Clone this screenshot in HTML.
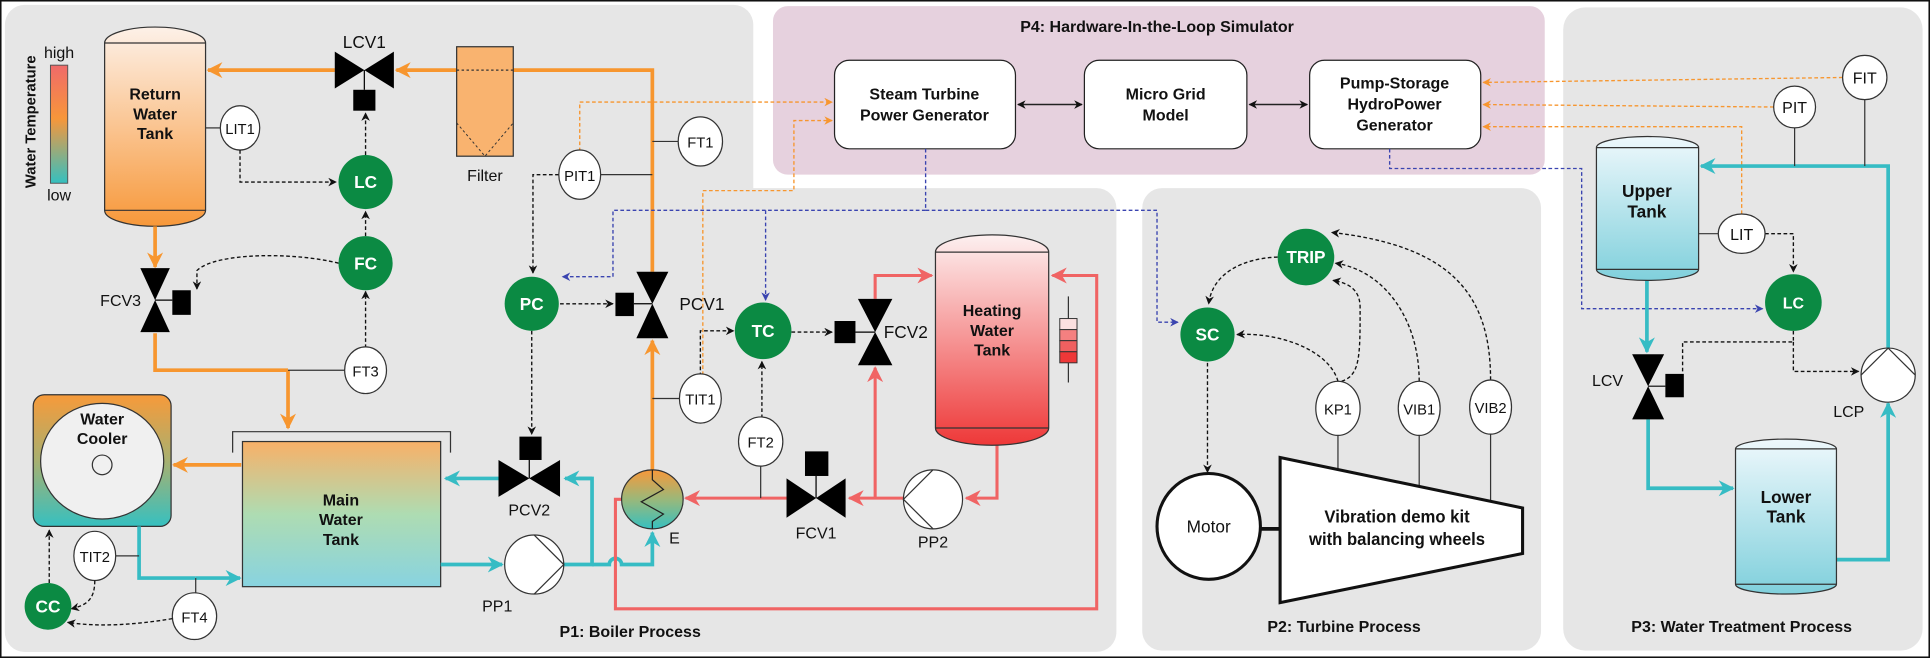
<!DOCTYPE html>
<html><head><meta charset="utf-8"><style>
html,body{margin:0;padding:0;background:#fff;}
svg{display:block;}
text{font-family:"Liberation Sans Narrow","Liberation Sans",Arial,sans-serif;fill:#111;}
.b{font-weight:bold;}
.w{font-family:"Liberation Sans",Arial,sans-serif;}
</style></head><body>
<svg width="1930" height="658" viewBox="0 0 1568 535" preserveAspectRatio="none" xmlns="http://www.w3.org/2000/svg">
<defs>
<linearGradient id="gRet" x1="0" y1="0" x2="0" y2="1"><stop offset="0" stop-color="#fdf1e8"/><stop offset="1" stop-color="#f7983a"/></linearGradient>
<linearGradient id="gCool" x1="0" y1="0" x2="0" y2="1"><stop offset="0" stop-color="#f79a3a"/><stop offset="0.5" stop-color="#a8b070"/><stop offset="1" stop-color="#36c0c0"/></linearGradient>
<linearGradient id="gMain" x1="0" y1="0" x2="0" y2="1"><stop offset="0" stop-color="#f8b068"/><stop offset="0.5" stop-color="#aedcb2"/><stop offset="1" stop-color="#88d3e0"/></linearGradient>
<linearGradient id="gE" x1="0" y1="0" x2="0" y2="1"><stop offset="0" stop-color="#f7983a"/><stop offset="0.5" stop-color="#9ab87a"/><stop offset="1" stop-color="#36c0c0"/></linearGradient>
<linearGradient id="gHeat" x1="0" y1="0" x2="0" y2="1"><stop offset="0" stop-color="#fdf0f0"/><stop offset="1" stop-color="#ee3838"/></linearGradient>
<linearGradient id="gT3" x1="0" y1="0" x2="0" y2="1"><stop offset="0" stop-color="#eef8fc"/><stop offset="1" stop-color="#80d0dc"/></linearGradient>
<linearGradient id="gBar" x1="0" y1="0" x2="0" y2="1"><stop offset="0" stop-color="#f06a6a"/><stop offset="0.45" stop-color="#f7963a"/><stop offset="1" stop-color="#35c0c0"/></linearGradient>
<marker id="ao" viewBox="0 0 10 10" refX="9" refY="5" markerWidth="13" markerHeight="13" markerUnits="userSpaceOnUse" orient="auto"><path d="M0,0 L10,5 L0,10 L3,5z" fill="#f7962f"/></marker>
<marker id="at" viewBox="0 0 10 10" refX="9" refY="5" markerWidth="13" markerHeight="13" markerUnits="userSpaceOnUse" orient="auto"><path d="M0,0 L10,5 L0,10 L3,5z" fill="#36bcc4"/></marker>
<marker id="ar" viewBox="0 0 10 10" refX="9" refY="5" markerWidth="13" markerHeight="13" markerUnits="userSpaceOnUse" orient="auto"><path d="M0,0 L10,5 L0,10 L3,5z" fill="#f06464"/></marker>
<marker id="ak" viewBox="0 0 10 10" refX="9" refY="5" markerWidth="7" markerHeight="7" markerUnits="userSpaceOnUse" orient="auto"><path d="M0,0 L10,5 L0,10 L3,5z" fill="#111"/></marker>
<marker id="ab" viewBox="0 0 10 10" refX="9" refY="5" markerWidth="7" markerHeight="7" markerUnits="userSpaceOnUse" orient="auto"><path d="M0,0 L10,5 L0,10 L3,5z" fill="#3a44b0"/></marker>
<marker id="aO" viewBox="0 0 10 10" refX="9" refY="5" markerWidth="7" markerHeight="7" markerUnits="userSpaceOnUse" orient="auto"><path d="M0,0 L10,5 L0,10 L3,5z" fill="#f7962f"/></marker>
<marker id="aks" viewBox="0 0 10 10" refX="1" refY="5" markerWidth="7" markerHeight="7" markerUnits="userSpaceOnUse" orient="auto"><path d="M10,0 L0,5 L10,10 L7,5z" fill="#111"/></marker>
</defs>
<rect x="0.5" y="0.5" width="1567" height="534" fill="#fff" stroke="#111" stroke-width="1.5"/>
<rect x="4" y="4" width="608" height="526" rx="16" fill="#e6e6e6"/>
<rect x="4" y="153" width="903" height="377" rx="16" fill="#e6e6e6"/>
<rect x="628" y="5" width="627" height="137" rx="12" fill="#e6d1de"/>
<rect x="928" y="153" width="324" height="376" rx="16" fill="#e6e6e6"/>
<rect x="1270" y="6" width="292" height="523" rx="18" fill="#e6e6e6"/>

<text x="940" y="26" text-anchor="middle" class="b" font-size="13">P4: Hardware-In-the-Loop Simulator</text>
<rect x="678" y="49" width="147" height="72" rx="12" fill="#fff" stroke="#222" stroke-width="1"/>
<text x="751" y="81" text-anchor="middle" class="b" font-size="13">Steam Turbine</text>
<text x="751" y="98" text-anchor="middle" class="b" font-size="13">Power Generator</text>
<rect x="881" y="49" width="132" height="72" rx="12" fill="#fff" stroke="#222" stroke-width="1"/>
<text x="947" y="81" text-anchor="middle" class="b" font-size="13">Micro Grid</text>
<text x="947" y="98" text-anchor="middle" class="b" font-size="13">Model</text>
<rect x="1064" y="49" width="139" height="72" rx="12" fill="#fff" stroke="#222" stroke-width="1"/>
<text x="1133" y="72" text-anchor="middle" class="b" font-size="13">Pump-Storage</text>
<text x="1133" y="89" text-anchor="middle" class="b" font-size="13">HydroPower</text>
<text x="1133" y="106" text-anchor="middle" class="b" font-size="13">Generator</text>
<line x1="827" y1="85" x2="879" y2="85" stroke="#222" stroke-width="1.2" marker-start="url(#aks)" marker-end="url(#ak)"/>
<line x1="1015" y1="85" x2="1062" y2="85" stroke="#222" stroke-width="1.2" marker-start="url(#aks)" marker-end="url(#ak)"/>

<text transform="translate(29,99) rotate(-90)" text-anchor="middle" class="b w" font-size="12">Water Temperature</text>
<text x="48" y="47" text-anchor="middle" font-size="13">high</text>
<rect x="41" y="53" width="14" height="96" fill="url(#gBar)" stroke="#555" stroke-width="0.8"/>
<text x="48" y="163" text-anchor="middle" font-size="13">low</text>

<path d="M85,35 A41,13 0 0 1 167,35 L167,171 A41,13 0 0 1 85,171 Z" fill="url(#gRet)" stroke="#333" stroke-width="1"/>
<line x1="85" y1="35" x2="167" y2="35" stroke="#333"/><line x1="85" y1="171" x2="167" y2="171" stroke="#333"/>
<text x="126" y="81" text-anchor="middle" class="b" font-size="13">Return</text>
<text x="126" y="97" text-anchor="middle" class="b" font-size="13">Water</text>
<text x="126" y="113" text-anchor="middle" class="b" font-size="13">Tank</text>

<g fill="none" stroke="#f7962f" stroke-width="3">
<polyline points="530,221 530,57 417,57"/>
<line x1="371" y1="57" x2="322" y2="57" marker-end="url(#ao)"/>
<line x1="272" y1="57" x2="169" y2="57" marker-end="url(#ao)"/>
<line x1="126" y1="184" x2="126" y2="217" marker-end="url(#ao)"/>
<polyline points="126,271 126,301 234,301"/>
<line x1="234" y1="301" x2="234" y2="348" marker-end="url(#ao)"/>
<line x1="196" y1="378" x2="141" y2="378" marker-end="url(#ao)"/>
<line x1="530" y1="382" x2="530" y2="277" marker-end="url(#ao)"/>
</g>
<rect x="371" y="38" width="46" height="89" fill="#f9b36f" stroke="#333" stroke-width="1"/>
<line x1="371" y1="57" x2="417" y2="57" stroke="#333" stroke-dasharray="2 2"/>
<polyline points="371,100 394,127 417,100" fill="none" stroke="#333" stroke-width="0.8" stroke-dasharray="2 2"/>
<text x="394" y="147" text-anchor="middle" font-size="13">Filter</text>

<polygon points="272,42 296,57 272,72" fill="#000"/><polygon points="320,42 296,57 320,72" fill="#000"/>
<line x1="296" y1="57" x2="296" y2="73" stroke="#000"/><rect x="287" y="73" width="18" height="17" fill="#000"/>
<text x="296" y="39" text-anchor="middle" font-size="14">LCV1</text>

<line x1="167" y1="104" x2="179" y2="104" stroke="#333"/>
<ellipse cx="195" cy="104" rx="16" ry="18" fill="#fff" stroke="#333"/>
<text x="195" y="109" text-anchor="middle" font-size="12">LIT1</text>

<g fill="none" stroke="#111" stroke-width="1.1" stroke-dasharray="3 2">
<polyline points="195,122 195,148 273,148" marker-end="url(#ak)"/>
<line x1="297" y1="126" x2="297" y2="92" marker-end="url(#ak)"/>
<line x1="297" y1="192" x2="297" y2="172" marker-end="url(#ak)"/>
<line x1="297" y1="283" x2="297" y2="237" marker-end="url(#ak)"/>
<path d="M275,214 C240,205 175,205 160,220 L160,235" marker-end="url(#ak)"/>
</g>
<circle cx="297" cy="148" r="22" fill="#0b8a43"/><text x="297" y="153" text-anchor="middle" class="b" font-size="14" style="fill:#fff">LC</text>
<circle cx="297" cy="214" r="22" fill="#0b8a43"/><text x="297" y="219" text-anchor="middle" class="b" font-size="14" style="fill:#fff">FC</text>

<polygon points="114,218 138,218 126,244" fill="#000"/><polygon points="114,270 138,270 126,244" fill="#000"/>
<line x1="126" y1="244" x2="140" y2="244" stroke="#000"/><rect x="140" y="236" width="15" height="20" fill="#000"/>
<text x="98" y="249" text-anchor="middle" font-size="13">FCV3</text>

<line x1="234" y1="301" x2="280" y2="301" stroke="#333"/>
<ellipse cx="297" cy="301" rx="17" ry="19" fill="#fff" stroke="#333"/>
<text x="297" y="306" text-anchor="middle" font-size="12">FT3</text>

<rect x="27" y="321" width="112" height="107" rx="9" fill="url(#gCool)" stroke="#333"/>
<ellipse cx="83" cy="375" rx="50" ry="47" fill="#f0f0f0" stroke="#333"/>
<circle cx="83" cy="378" r="8" fill="none" stroke="#333"/>
<text x="83" y="345" text-anchor="middle" class="b" font-size="13">Water</text>
<text x="83" y="361" text-anchor="middle" class="b" font-size="13">Cooler</text>

<polyline points="189,368 189,351 366,351 366,368" fill="none" stroke="#333"/>
<rect x="197" y="359" width="161" height="118" fill="url(#gMain)" stroke="#333"/>
<text x="277" y="411" text-anchor="middle" class="b" font-size="13">Main</text>
<text x="277" y="427" text-anchor="middle" class="b" font-size="13">Water</text>
<text x="277" y="443" text-anchor="middle" class="b" font-size="13">Tank</text>

<g fill="none" stroke="#36bcc4" stroke-width="3">
<polyline points="113,428 113,470 159,470"/>
<line x1="159" y1="470" x2="195" y2="470" marker-end="url(#at)"/>
<line x1="405" y1="389" x2="362" y2="389" marker-end="url(#at)"/>
<line x1="358" y1="459" x2="408" y2="459" marker-end="url(#at)"/>
<polyline points="458,459 481,459 481,389 470,389"/>
<path d="M481,459 L495,459 A5,5 0 0 1 505,459 L530,459 L530,433" marker-end="url(#at)"/>
</g>
<polyline points="481,389 459,389" fill="none" stroke="#36bcc4" stroke-width="3" marker-end="url(#at)"/>
<line x1="113" y1="452" x2="93" y2="452" stroke="#333"/>
<line x1="159" y1="470" x2="159" y2="482" stroke="#333"/>
<ellipse cx="77" cy="452" rx="17" ry="20" fill="#fff" stroke="#333"/><text x="77" y="457" text-anchor="middle" font-size="12">TIT2</text>
<ellipse cx="158" cy="501" rx="18" ry="19" fill="#fff" stroke="#333"/><text x="158" y="506" text-anchor="middle" font-size="12">FT4</text>
<g fill="none" stroke="#111" stroke-width="1.1" stroke-dasharray="3 2">
<line x1="40" y1="474" x2="40" y2="431" marker-end="url(#ak)"/>
<path d="M77,472 C77,488 70,492 58,495" marker-end="url(#ak)"/>
<path d="M140,503 C110,508 80,510 55,506" marker-end="url(#ak)"/>
</g>
<circle cx="39" cy="493" r="19" fill="#0b8a43"/><text x="39" y="498" text-anchor="middle" class="b" font-size="14" style="fill:#fff">CC</text>

<polygon points="405,374 430,389 405,404" fill="#000"/><polygon points="455,374 430,389 455,404" fill="#000"/>
<line x1="430" y1="389" x2="430" y2="374" stroke="#000"/><rect x="422" y="355" width="18" height="19" fill="#000"/>
<text x="430" y="419" text-anchor="middle" font-size="13">PCV2</text>

<ellipse cx="434" cy="459" rx="24" ry="24" fill="#fff" stroke="#333"/>
<polyline points="434,435 458,459 434,483" fill="none" stroke="#333"/>
<text x="404" y="497" text-anchor="middle" font-size="13">PP1</text>

<g fill="none" stroke="#f06464" stroke-width="2.5">
<polyline points="505,406 500,406 500,495 891,495 891,224 855,224" marker-end="url(#ar)"/>
<line x1="639" y1="405" x2="557" y2="405" marker-end="url(#ar)"/>
<line x1="734" y1="405" x2="690" y2="405" marker-end="url(#ar)"/>
<line x1="711" y1="405" x2="711" y2="299" marker-end="url(#ar)"/>
<polyline points="711,243 711,224 757,224" marker-end="url(#ar)"/>
<polyline points="810,362 810,405 785,405" marker-end="url(#ar)"/>
</g>
<line x1="618" y1="379" x2="618" y2="405" stroke="#333"/>

<ellipse cx="530" cy="406" rx="25" ry="24" fill="url(#gE)" stroke="#333"/>
<polyline points="530,382 530,390 539,398 521,408 539,418 530,424 530,430" fill="none" stroke="#222" stroke-width="1"/>
<text x="548" y="442" text-anchor="middle" font-size="13">E</text>

<polygon points="517,221 543,221 530,247" fill="#000"/><polygon points="517,275 543,275 530,247" fill="#000"/>
<line x1="530" y1="247" x2="515" y2="247" stroke="#000"/><rect x="500" y="238" width="15" height="19" fill="#000"/>
<text x="552" y="252" font-size="14">PCV1</text>

<line x1="488" y1="142" x2="530" y2="142" stroke="#333"/>
<line x1="530" y1="115" x2="551" y2="115" stroke="#333"/>
<line x1="530" y1="324" x2="552" y2="324" stroke="#333"/>
<g fill="none" stroke-width="1.1" stroke-dasharray="3 2">
<polyline points="471,123 471,83 676,83" stroke="#f7962f" marker-end="url(#aO)"/>
<polyline points="571,305 571,155 645,155 645,98 676,98" stroke="#f7962f" marker-end="url(#aO)"/>
<polyline points="454,142 433,142 433,222" stroke="#111" marker-end="url(#ak)"/>
<line x1="455" y1="247" x2="498" y2="247" stroke="#111" marker-end="url(#ak)"/>
<line x1="432" y1="269" x2="432" y2="353" stroke="#111" marker-end="url(#ak)"/>
<polyline points="569,306 569,269 596,269" stroke="#111" marker-end="url(#ak)"/>
<line x1="643" y1="270" x2="676" y2="270" stroke="#111" marker-end="url(#ak)"/>
<line x1="619" y1="340" x2="619" y2="294" stroke="#111" marker-end="url(#ak)"/>
<polyline points="752,121 752,171 498,171 498,225 457,225" stroke="#3a44b0" marker-end="url(#ab)"/>
<polyline points="622,171 622,244" stroke="#3a44b0" marker-end="url(#ab)"/>
<polyline points="752,171 940,171 940,262 957,262" stroke="#3a44b0" marker-end="url(#ab)"/>
<polyline points="1129,121 1129,137 1285,137 1285,251 1432,251" stroke="#3a44b0" marker-end="url(#ab)"/>
<polyline points="1497,63 1205,67" stroke="#f7962f" marker-end="url(#aO)"/>
<polyline points="1441,87 1205,85" stroke="#f7962f" marker-end="url(#aO)"/>
<polyline points="1415,174 1415,103 1205,103" stroke="#f7962f" marker-end="url(#aO)"/>
</g>
<ellipse cx="471" cy="142" rx="17" ry="20" fill="#fff" stroke="#333"/><text x="471" y="147" text-anchor="middle" font-size="12">PIT1</text>
<ellipse cx="569" cy="115" rx="18" ry="20" fill="#fff" stroke="#333"/><text x="569" y="120" text-anchor="middle" font-size="12">FT1</text>
<ellipse cx="569" cy="324" rx="17" ry="20" fill="#fff" stroke="#333"/><text x="569" y="329" text-anchor="middle" font-size="12">TIT1</text>
<ellipse cx="618" cy="359" rx="18" ry="20" fill="#fff" stroke="#333"/><text x="618" y="364" text-anchor="middle" font-size="12">FT2</text>
<circle cx="432" cy="247" r="22" fill="#0b8a43"/><text x="432" y="252" text-anchor="middle" class="b" font-size="14" style="fill:#fff">PC</text>
<circle cx="620" cy="269" r="23" fill="#0b8a43"/><text x="620" y="274" text-anchor="middle" class="b" font-size="14" style="fill:#fff">TC</text>

<polygon points="697,243 725,243 711,270" fill="#000"/><polygon points="697,297 725,297 711,270" fill="#000"/>
<line x1="711" y1="270" x2="695" y2="270" stroke="#000"/><rect x="678" y="261" width="17" height="18" fill="#000"/>
<text x="718" y="275" font-size="14">FCV2</text>

<polygon points="639,389 663,405 639,421" fill="#000"/><polygon points="687,389 663,405 687,421" fill="#000"/>
<line x1="663" y1="405" x2="663" y2="387" stroke="#000"/><rect x="654" y="367" width="19" height="20" fill="#000"/>
<text x="663" y="438" text-anchor="middle" font-size="13">FCV1</text>

<ellipse cx="758" cy="406" rx="24" ry="24" fill="#fff" stroke="#333"/>
<polyline points="758,382 734,406 758,430" fill="none" stroke="#333"/>
<text x="758" y="445" text-anchor="middle" font-size="13">PP2</text>

<path d="M760,205 A46,14 0 0 1 852,205 L852,348 A46,14 0 0 1 760,348 Z" fill="url(#gHeat)" stroke="#333"/>
<line x1="760" y1="205" x2="852" y2="205" stroke="#333"/><line x1="760" y1="348" x2="852" y2="348" stroke="#333"/>
<text x="806" y="257" text-anchor="middle" class="b" font-size="13">Heating</text>
<text x="806" y="273" text-anchor="middle" class="b" font-size="13">Water</text>
<text x="806" y="289" text-anchor="middle" class="b" font-size="13">Tank</text>
<line x1="868" y1="241" x2="868" y2="311" stroke="#333"/>
<rect x="861" y="259" width="14" height="9" fill="#fbe0e0" stroke="#333" stroke-width="0.8"/>
<rect x="861" y="268" width="14" height="9" fill="#f48080" stroke="#333" stroke-width="0.8"/>
<rect x="861" y="277" width="14" height="9" fill="#f06060" stroke="#333" stroke-width="0.8"/>
<rect x="861" y="286" width="14" height="9" fill="#ee3838" stroke="#333" stroke-width="0.8"/>

<text x="512" y="518" text-anchor="middle" class="b" font-size="13">P1: Boiler Process</text>

<g fill="none" stroke="#111" stroke-width="1.1" stroke-dasharray="3 2">
<path d="M1038,209 C1010,210 985,222 982,247" marker-end="url(#ak)"/>
<path d="M1087,310 C1080,285 1040,270 1005,272" marker-end="url(#ak)"/>
<path d="M1090,310 C1105,305 1105,290 1105,250 C1105,235 1095,230 1083,228" marker-end="url(#ak)"/>
<path d="M1153,310 C1153,260 1125,220 1085,214" marker-end="url(#ak)"/>
<path d="M1211,309 C1211,240 1180,200 1082,189" marker-end="url(#ak)"/>
<line x1="981" y1="295" x2="981" y2="384" marker-end="url(#ak)"/>
</g>
<circle cx="1061" cy="209" r="23" fill="#0b8a43"/><text x="1061" y="214" text-anchor="middle" class="b" font-size="14" style="fill:#fff">TRIP</text>
<circle cx="981" cy="272" r="22" fill="#0b8a43"/><text x="981" y="277" text-anchor="middle" class="b" font-size="14" style="fill:#fff">SC</text>
<line x1="1087" y1="354" x2="1087" y2="382" stroke="#333"/>
<line x1="1153" y1="354" x2="1153" y2="396" stroke="#333"/>
<line x1="1211" y1="353" x2="1211" y2="408" stroke="#333"/>
<ellipse cx="1087" cy="332" rx="18" ry="22" fill="#fff" stroke="#333"/><text x="1087" y="337" text-anchor="middle" font-size="12">KP1</text>
<ellipse cx="1153" cy="332" rx="17" ry="22" fill="#fff" stroke="#333"/><text x="1153" y="337" text-anchor="middle" font-size="12">VIB1</text>
<ellipse cx="1211" cy="331" rx="17" ry="22" fill="#fff" stroke="#333"/><text x="1211" y="336" text-anchor="middle" font-size="12">VIB2</text>
<line x1="1024" y1="430" x2="1040" y2="430" stroke="#111" stroke-width="3"/>
<ellipse cx="982" cy="428" rx="42" ry="43" fill="#fff" stroke="#111" stroke-width="2.5"/>
<text x="982" y="433" text-anchor="middle" font-size="14">Motor</text>
<polygon points="1040,372 1237,413 1237,450 1040,490" fill="#fff" stroke="#111" stroke-width="2.5"/>
<text x="1135" y="425" text-anchor="middle" class="b" font-size="14" textLength="118" lengthAdjust="spacingAndGlyphs">Vibration demo kit</text>
<text x="1135" y="443" text-anchor="middle" class="b" font-size="14" textLength="143" lengthAdjust="spacingAndGlyphs">with balancing wheels</text>
<text x="1092" y="514" text-anchor="middle" class="b" font-size="13">P2: Turbine Process</text>

<g fill="none" stroke="#36bcc4" stroke-width="3">
<polyline points="1534,283 1534,135 1382,135" marker-end="url(#at)"/>
<line x1="1338" y1="228" x2="1338" y2="286" marker-end="url(#at)"/>
<polyline points="1339,341 1339,397 1408,397" marker-end="url(#at)"/>
<polyline points="1492,455 1534,455 1534,328" marker-end="url(#at)"/>
</g>
<line x1="1515" y1="81" x2="1515" y2="135" stroke="#333"/>
<line x1="1458" y1="104" x2="1458" y2="135" stroke="#333"/>
<line x1="1380" y1="190" x2="1396" y2="190" stroke="#333"/>
<path d="M1297,120 A41.5,9 0 0 1 1380,120 L1380,219 A41.5,9 0 0 1 1297,219 Z" fill="url(#gT3)" stroke="#333"/>
<line x1="1297" y1="120" x2="1380" y2="120" stroke="#333"/><line x1="1297" y1="219" x2="1380" y2="219" stroke="#333"/>
<text x="1338" y="160" text-anchor="middle" class="b w" font-size="14">Upper</text>
<text x="1338" y="177" text-anchor="middle" class="b w" font-size="14">Tank</text>
<path d="M1410,365 A41,8 0 0 1 1492,365 L1492,475 A41,8 0 0 1 1410,475 Z" fill="url(#gT3)" stroke="#333"/>
<line x1="1410" y1="365" x2="1492" y2="365" stroke="#333"/><line x1="1410" y1="475" x2="1492" y2="475" stroke="#333"/>
<text x="1451" y="409" text-anchor="middle" class="b w" font-size="14">Lower</text>
<text x="1451" y="425" text-anchor="middle" class="b w" font-size="14">Tank</text>
<g fill="none" stroke="#111" stroke-width="1.1" stroke-dasharray="3 2">
<polyline points="1434,190 1457,190 1457,221" marker-end="url(#ak)"/>
<polyline points="1457,269 1457,278 1367,278 1367,304"/>
<polyline points="1457,278 1457,302 1510,302" marker-end="url(#ak)"/>
</g>
<ellipse cx="1515" cy="63" rx="18" ry="18" fill="#fff" stroke="#333"/><text x="1515" y="68" text-anchor="middle" class="w" font-size="13">FIT</text>
<ellipse cx="1458" cy="87" rx="17" ry="17" fill="#fff" stroke="#333"/><text x="1458" y="92" text-anchor="middle" class="w" font-size="13">PIT</text>
<ellipse cx="1415" cy="190" rx="19" ry="16" fill="#fff" stroke="#333"/><text x="1415" y="195" text-anchor="middle" class="w" font-size="13">LIT</text>
<circle cx="1457" cy="246" r="23" fill="#0b8a43"/><text x="1457" y="251" text-anchor="middle" class="b w" font-size="13" style="fill:#fff">LC</text>
<ellipse cx="1534" cy="305" rx="22" ry="22" fill="#fff" stroke="#333"/>
<polyline points="1512,305 1534,283 1556,305" fill="none" stroke="#333"/>
<text x="1502" y="339" text-anchor="middle" class="w" font-size="13">LCP</text>
<polygon points="1326,288 1352,288 1339,314" fill="#000"/><polygon points="1326,341 1352,341 1339,314" fill="#000"/>
<line x1="1339" y1="314" x2="1353" y2="314" stroke="#000"/><rect x="1353" y="304" width="15" height="19" fill="#000"/>
<text x="1306" y="314" text-anchor="middle" class="w" font-size="13">LCV</text>
<text x="1415" y="514" text-anchor="middle" class="b w" font-size="13">P3: Water Treatment Process</text>
</svg>
</body></html>
